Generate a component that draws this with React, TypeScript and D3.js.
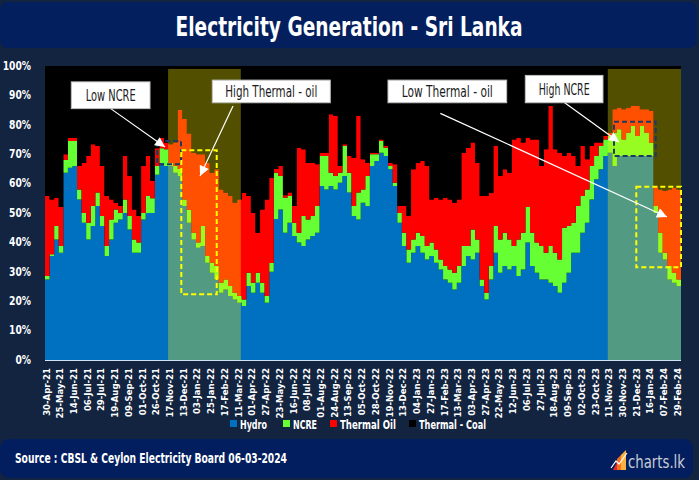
import React from 'react';
import * as d3 from 'd3';

const tickLabels = ['30-Apr-21','25-May-21','14-Jun-21','06-Jul-21','29-Jul-21','19-Aug-21','09-Sep-21','01-Oct-21','26-Oct-21','17-Nov-21','13-Dec-21','03-Jan-22','25-Jan-22','17-Feb-22','11-Mar-22','01-Apr-22','27-Apr-22','23-May-22','16-Jun-22','08-Jul-22','01-Aug-22','24-Aug-22','13-Sep-22','05-Oct-22','28-Oct-22','19-Nov-22','13-Dec-22','04-Jan-23','27-Jan-23','17-Feb-23','13-Mar-23','03-Apr-23','27-Apr-23','22-May-23','12-Jun-23','06-Jul-23','27-Jul-23','18-Aug-23','09-Sep-23','02-Oct-23','23-Oct-23','11-Nov-23','30-Nov-23','21-Dec-23','16-Jan-24','07-Feb-24','29-Feb-24'];

const hydro = [27.4,35.4,41,36.5,63.7,65.4,66,54.6,46.7,41, 45.6,52.4,45.6,35.4,41,46.7,47.8,50,44.4,36.5, 36.5,47.8,50,50,63,67,66,66,63.7,62.6, 52.4,46.7,41,38.2,38.8,33.1,29.7,27.4,22.9,24, 21.8,20.6,19.5,18.4,25.2,22.9,26.3,22.9,19.5,30, 48,51.2,43.3,46.7,42.2,40,38.8,41,42.2,43.3, 59.2,58,59.2,58,60.3,62.6,57,49,47.8,53.5, 52.4,66,67.7,70.5,69.4,64.9,59.2,46.7,38.8,33.1, 36.5,38.8,36.5,34.2,35.4,33.1,30.8,27.4,26.3,24, 26.3,32,35.4,34.2,36.5,25.2,20.6,27.4,36.5,29.7, 32,30.8,32,28.6,30.8,40,32,29.7,27.4,27.4, 26.3,25.2,22.9,26.3,29.7,36.5,36.5,43.3,46.7,54.6, 61.5,64.9,69.4,70.5,66,69.4,69.4,69.4,69.4,69.4, 69.4,69.4,69.4,50,36.5,34.2,27.4,26.3,25.2];
const ncre = [1.2,0.6,4.6,2.3,4.3,9.1,8.5,3.4,3.3,5.7, 6.8,4.6,3.4,3.4,6.8,4.5,2.2,4.6,4.6,4.5, 3.5,2.2,5.8,5,3,5,5.7,1,2.3,2.4, 2.2,4.3,2.3,1.8,6.8,2.3,3.4,4.6,3.4,3.4, 3.4,2.3,2.3,2.2,4.5,3.4,3.4,3.4,2.3,3, 15.7,11.4,11.9,9.1,4.5,3.3,10.2,6.8,6.8,9.1, 10.2,11.4,4.5,4.6,3.4,10.2,6.7,3.4,9.2,4.5, 10.2,4,2.3,4,2.8,1.1,1.1,3.3,4.5,4.5, 4.5,4.5,5.7,4.6,4.6,4.5,3.4,4.6,4.5,5.7, 5.7,6.8,3.4,10.2,4.5,2.2,2.3,4.6,9.1,11.3, 11.3,10.2,6.8,12.4,12.5,12,11.3,10.3,11.4,9.1, 12.5,11.3,11.3,18.7,15.9,10.2,15.9,12.5,11.3,11.4, 7.9,7.9,5.6,5.7,11.3,9.1,5.6,7.9,10.2,6.8, 10.2,7.9,4.5,2.4,6.8,2.3,4.6,3.4,2.2];
const thermalOil = [27.2,18.6,9.6,13.2,2,1.1,1.1,8,17,22.7, 21,15.8,17,17,6.8,2.3,2.4,14.8,13.6,10.2, 9,16,13.6,6,6,3.6,2.3,6.4,8,20, 27.4,26,27.2,30,24.4,31.6,30.6,32.9,31.7,29.5, 30.6,30.6,32.8,36.3,26.1,23.7,13.6,24.9,32.8,29, 1.3,3.4,0.8,1.2,5.7,28.9,22.7,19.2,18,14.2, 1.1,1.1,19.9,20.4,2.3,0.6,5.7,16.4,26,10.3, 4.4,0.5,0.5,0.5,0.6,1,6.3,2.4,9.1,11.4, 23.9,23.7,25.5,27.2,14.6,17.6,20.4,23.2,23.8,23.8, 22.6,31.7,33.4,29.6,26,28.4,32.9,24.9,27.2,21.6, 21.6,22.7,36.2,34.6,30.7,23.6,31.7,35,27.2,35.2, 47.6,35.2,36.3,24.4,24.9,22.7,13.6,17,10.3,6.8, 4.6,1.2,1.2,1.1,8,7.3,10.3,8.5,6.8,10.2, 5.7,8,10.8,6.8,14.7,21,26,28.9,30.6];
const thermalCoal = [44.2,45.4,44.8,48,30,24.4,24.4,34,33,30.6, 26.6,27.2,34,44.2,45.4,46.5,47.6,30.6,37.4,48.8, 51,34,30.6,39,28,24.4,26,26.6,26,15, 18,23,29.5,30,30,33,36.3,35.1,42,43.1, 44.2,46.5,45.4,43.1,44.2,50,56.7,48.8,45.4,38, 35,34,44,43,47.6,27.8,28.3,33,33,33.4, 29.5,29.5,16.4,17,34,26.6,30.6,31.2,17,31.7, 33,29.5,29.5,25,27.2,33,33.4,47.6,47.6,51, 35.1,33,32.3,34,45.4,44.8,45.4,44.8,45.4,46.5, 45.4,29.5,27.8,26,33,44.2,44.2,43.1,27.2,37.4, 35.1,36.3,25,24.4,26,24.4,25,25,34,28.3, 13.6,28.3,29.5,30.6,29.5,30.6,34,27.2,31.7,27.2, 26,26,23.8,22.7,14.7,14.2,14.7,14.2,13.6,13.6, 14.7,14.7,15.3,40.8,42,42.5,42,41.4,42];

const seriesKeys = ['hydro', 'ncre', 'oil', 'coal'];
const seriesNames = ['Hydro', 'NCRE', 'Thermal Oil', 'Thermal - Coal'];
const seriesColors = ['#0070c0', '#66ff33', '#ff0000', '#000000'];
const yTicks = [0, 10, 20, 30, 40, 50, 60, 70, 80, 90, 100];
const highlightPeriods = [[26.9, 42.8], [123, 139]];

const labelBoxes = [
  { x0: 5.75, x1: 22.95, v0: 94.6, v1: 85.5, text: 'Low NCRE', tw: 50 },
  { x0: 36.56, x1: 62.35, v0: 95.2, v1: 87.5, text: 'High Thermal - oil', tw: 92 },
  { x0: 74.96, x1: 100.9, v0: 95.2, v1: 87.5, text: 'Low Thermal - oil', tw: 91 },
  { x0: 104.97, x1: 121.95, v0: 96.8, v1: 87.5, text: 'High NCRE', tw: 51 },
];
const arrows = [
  { x0: 14.36, v0: 85.5, x1: 26.23, v1: 72.45 },
  { x0: 41.09, v0: 86.4, x1: 33.88, v1: 62.6 },
  { x0: 86.4, v0: 83.9, x1: 135.94, v1: 48.64 },
  { x0: 113.58, v0: 87.5, x1: 125.45, v1: 74.15 },
];
const dashBoxes = [
  { x0: 24.54, x1: 29.72, v0: 74.5, v1: 66.56, color: '#1f3864' },
  { x0: 29.79, x1: 37.53, v0: 71.33, v1: 22.35, color: '#ffff00' },
  { x0: 124.36, x1: 133.47, v0: 81.05, v1: 69.39, color: '#1f3864' },
  { x0: 129.23, x1: 139.0, v0: 58.95, v1: 31.53, color: '#ffff00' },
];

const NARROW = "'Liberation Sans Narrow','Arial Narrow','DejaVu Sans Condensed',sans-serif";

export default function App() {
  const W = 699, H = 480;
  const n = hydro.length;
  const x = d3.scaleLinear().domain([0, n]).range([45, 681]);
  const y = d3.scaleLinear().domain([0, 100]).range([360, 66]);

  const rows: any[] = hydro.map((h, i) => ({ i, hydro: h, ncre: ncre[i], oil: thermalOil[i], coal: thermalCoal[i] }));
  rows.push({ ...rows[n - 1], i: n });
  const stacked = d3.stack().keys(seriesKeys)(rows as any);
  const area = d3.area<any>()
    .x((d: any) => x(d.data.i))
    .y0((d: any) => y(d[0]))
    .y1((d: any) => y(d[1]))
    .curve(d3.curveStepAfter);

  const legendX = [230, 283, 330, 409];
  const legendW = [27, 24, 56, 67];

  return (
    <svg width={W} height={H} style={{ position: 'absolute', left: 0, top: 0, display: 'block' }} xmlns="http://www.w3.org/2000/svg">
      <defs>
        <marker id="ah" viewBox="0 0 10 10" refX="10" refY="5" markerWidth="11" markerHeight="10" markerUnits="userSpaceOnUse" orient="auto">
          <path d="M0,0 L10,5 L0,10 z" fill="#ffffff" />
        </marker>
      </defs>
      <rect x={0} y={0} width={W} height={H} fill="#12243f" />
      <rect x={0} y={2} width={697} height={46} rx={8} fill="#041f5e" />
      <text x={349} y={26} textAnchor="middle" dominantBaseline="central" fill="#ffffff" fontFamily={NARROW} fontWeight="bold" fontSize={27} textLength={347} lengthAdjust="spacingAndGlyphs">Electricity Generation - Sri Lanka</text>

      <rect x={x(0)} y={y(100)} width={x(n) - x(0)} height={y(0) - y(100)} fill="#000000" />
      {stacked.map((s: any, k: number) => (
        <path key={k} d={area(s) || ''} fill={seriesColors[k]} />
      ))}
      {highlightPeriods.map((p, k) => (
        <rect key={k} x={x(p[0])} y={y(99)} width={x(p[1]) - x(p[0])} height={y(0) - y(99)} fill="#fff700" opacity={0.32} />
      ))}
      <line x1={x(0)} x2={x(n)} y1={y(0) + 0.5} y2={y(0) + 0.5} stroke="#cfe3f5" strokeWidth={1} />

      {yTicks.map(t => (
        <text key={t} transform={`translate(31,${y(t)}) scale(0.85,1)`} textAnchor="end" dominantBaseline="central" fill="#ffffff" fontFamily={NARROW} fontWeight="bold" fontSize={12}>{t}%</text>
      ))}
      {tickLabels.map((lab, k) => (
        <text key={lab} transform={`translate(${x(k * 3) + 1},368) rotate(-90)`} textAnchor="end" dominantBaseline="central" fill="#ffffff" fontFamily={NARROW} fontWeight="bold" fontSize={9.5}>{lab}</text>
      ))}

      {dashBoxes.map((b, k) => (
        <rect key={k} x={x(b.x0)} y={y(b.v0)} width={x(b.x1) - x(b.x0)} height={y(b.v1) - y(b.v0)} fill="none" stroke={b.color} strokeWidth={2} strokeDasharray="5,3" />
      ))}
      {arrows.map((a, k) => (
        <line key={k} x1={x(a.x0)} y1={y(a.v0)} x2={x(a.x1)} y2={y(a.v1)} stroke="#ffffff" strokeWidth={1.2} markerEnd="url(#ah)" />
      ))}
      {labelBoxes.map((b, k) => (
        <g key={k}>
          <rect x={x(b.x0)} y={y(b.v0)} width={x(b.x1) - x(b.x0)} height={y(b.v1) - y(b.v0)} fill="#ffffff" stroke="#bfbfbf" strokeWidth={1} />
          <text x={(x(b.x0) + x(b.x1)) / 2} y={(y(b.v0) + y(b.v1)) / 2 + 1} textAnchor="middle" dominantBaseline="central" fill="#1a1a1a" fontFamily={NARROW} fontSize={15} textLength={b.tw} lengthAdjust="spacingAndGlyphs">{b.text}</text>
        </g>
      ))}

      {seriesNames.map((name, k) => (
        <g key={name}>
          <rect x={legendX[k]} y={420} width={7} height={7} fill={seriesColors[k]} />
          <text x={legendX[k] + 10} y={424} dominantBaseline="central" fill="#ffffff" fontFamily={NARROW} fontWeight="bold" fontSize={12.5} textLength={legendW[k]} lengthAdjust="spacingAndGlyphs">{name}</text>
        </g>
      ))}

      <rect x={0} y={439} width={693} height={39} rx={9} fill="#031e5e" />
      <text x={15} y={458} dominantBaseline="central" fill="#ffffff" fontFamily={NARROW} fontWeight="bold" fontSize={14} textLength={272} lengthAdjust="spacingAndGlyphs">Source : CBSL &amp; Ceylon Electricity Board 06-03-2024</text>
      <g>
        <polygon points="613,470 617,462 617,470" fill="#e8262a" />
        <polygon points="617,470 617,459 621,455 621,470" fill="#f36f21" />
        <polygon points="621,470 621,455 626,450 626,470" fill="#fbb040" />
        <polyline points="611,468 616,461 619,464 627,453" fill="none" stroke="#ffffff" strokeWidth={1.2} />
        <text x={628} y={461} dominantBaseline="central" fill="#c9ccd6" fontFamily={NARROW} fontSize={18} textLength={57} lengthAdjust="spacingAndGlyphs">charts.lk</text>
      </g>
    </svg>
  );
}
